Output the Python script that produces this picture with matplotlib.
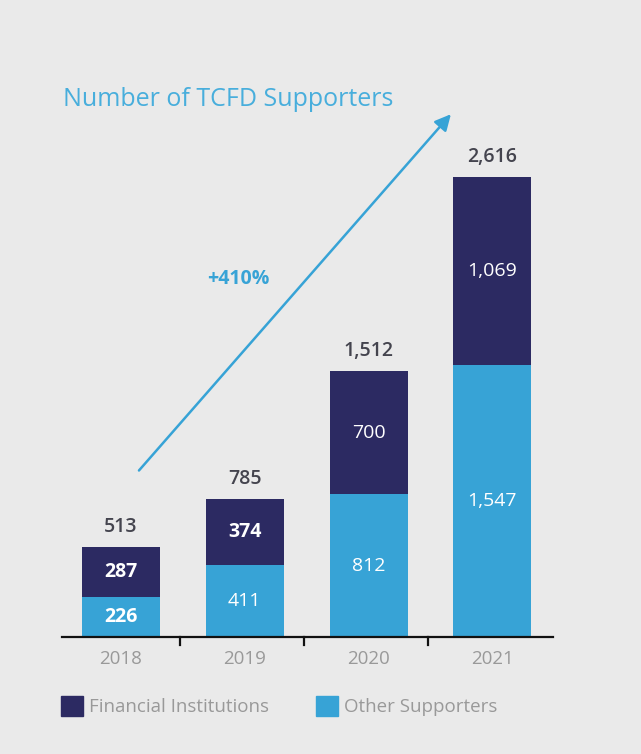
import numpy as np
import matplotlib.pyplot as plt
from matplotlib.patches import Patch

plt.rcParams['font.family'] = ['Open Sans', 'DejaVu Sans']

# Data
years = ['2018', '2019', '2020', '2021']
other = [226, 411, 812, 1547]
financial = [287, 374, 700, 1069]
totals = [513, 785, 1512, 2616]

navy = '#2c2a62'
blue = '#37a3d6'
bg = '#eaeaea'

fig = plt.figure(figsize=(6.41, 7.54), dpi=100, facecolor=bg)
# axes placed in pixel terms: baseline at y=637, axis from x=62 to x=553
ymax = 3100
px_per_unit = 460 / 2616
ax_h = ymax * px_per_unit
ax = fig.add_axes([62 / 641, (754 - 637) / 754, 491 / 641, ax_h / 754])
ax.set_facecolor(bg)

x = np.arange(len(years))
w = 0.63
ax.bar(x, other, w, color=blue, label='Other Supporters')
ax.bar(x, financial, w, bottom=other, color=navy, label='Financial Institutions')

for i in range(len(years)):
    wt = 'bold' if other[i] < 400 else 'normal'
    ax.text(x[i], other[i] / 2, f'{other[i]:,}', ha='center', va='center',
            color='white', fontsize=14, fontweight=wt)
    wt = 'bold' if financial[i] < 400 else 'normal'
    ax.text(x[i], other[i] + financial[i] / 2, f'{financial[i]:,}', ha='center',
            va='center', color='white', fontsize=14, fontweight=wt)
    ax.text(x[i], totals[i] + 114, f'{totals[i]:,}', ha='center', va='center',
            color='#44444e', fontsize=14, fontweight='semibold')

ax.set_xlim(-0.477, 3.49)
ax.set_ylim(0, ymax)
for s in ['top', 'right', 'left']:
    ax.spines[s].set_visible(False)
ax.spines['bottom'].set_linewidth(1.6)
ax.spines['bottom'].set_color('#111111')
ax.set_yticks([])
ax.set_xticks(x)
ax.set_xticklabels(years, color='#999999', fontsize=13.5)
ax.tick_params(axis='x', length=0, pad=9)
# separator ticks between bars
for b in x[:-1] + 0.48:
    ax.plot([b, b], [0, -45], color='#111111', lw=1.6, clip_on=False)

# growth arrow
ax.annotate('', xy=(2.68, 2985), xytext=(0.13, 935),
            arrowprops=dict(arrowstyle='-|>', color=blue, lw=1.8,
                            mutation_scale=24))
ax.text(0.95, 2035, '+410%', color=blue, fontsize=14, fontweight='bold',
        ha='center', va='center')

fig.text(63 / 641, 1 - 100 / 754, 'Number of TCFD Supporters', color='#48aedc',
         fontsize=18, ha='left', va='center')

handles = [Patch(color=navy), Patch(color=blue)]
fig.legend(handles, ['Financial Institutions', 'Other Supporters'], ncol=2,
           loc='center left', bbox_to_anchor=(44 / 641, 1 - 706 / 754),
           frameon=False, fontsize=13.5, labelcolor='#999999',
           handlelength=1.17, handleheight=1.33, handletextpad=0.32,
           columnspacing=2.5)

fig.savefig('out.png', dpi=100, facecolor=bg)
